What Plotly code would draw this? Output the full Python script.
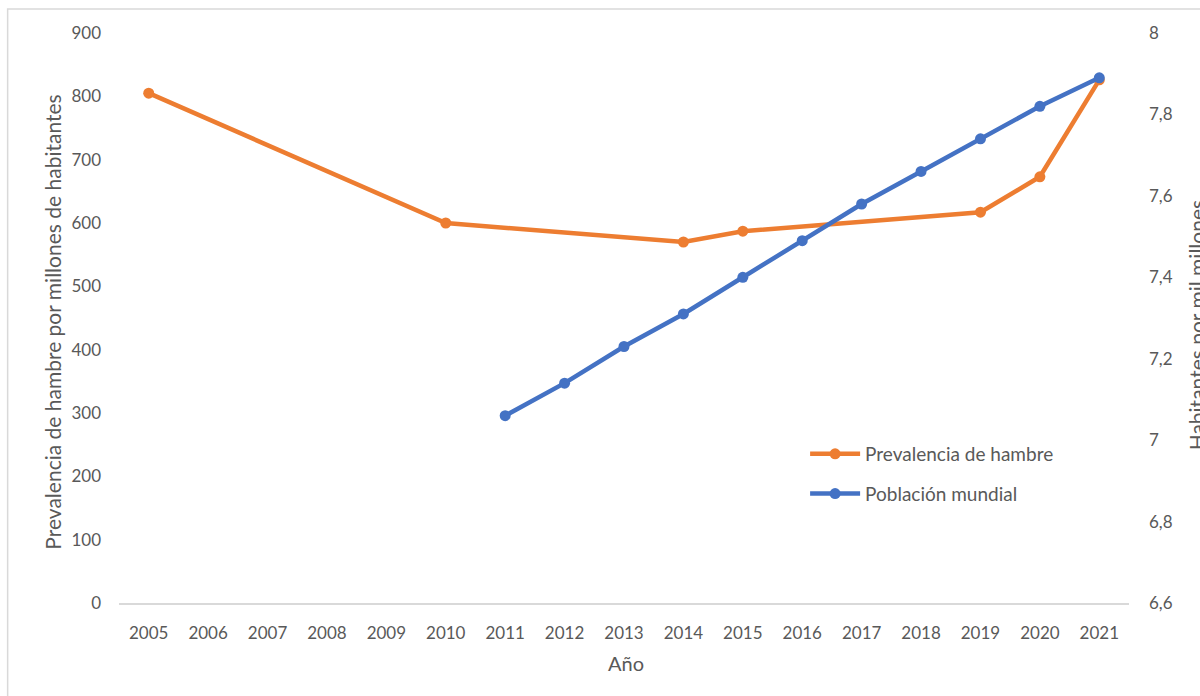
import plotly.graph_objects as go

years = [str(y) for y in range(2005, 2022)]

hunger_years = ["2005", "2010", "2014", "2015", "2019", "2020", "2021"]
hunger_vals = [805, 600, 570, 587, 617, 673, 826]

pop_years = ["2011", "2012", "2013", "2014", "2015", "2016", "2017", "2018", "2019", "2020", "2021"]
pop_vals = [7.06, 7.14, 7.23, 7.31, 7.40, 7.49, 7.58, 7.66, 7.74, 7.82, 7.89]

left_ticks = [0, 100, 200, 300, 400, 500, 600, 700, 800, 900]
right_ticks = [6.6, 6.8, 7.0, 7.2, 7.4, 7.6, 7.8, 8.0]

ORANGE = "#ED7D31"
BLUE = "#4472C4"
GRAY = "#595959"
FONT = "Lato"

W, H = 1200, 696
L, R, T, B = 119.3, 1128.7, 33, 603

fig = go.Figure()
fig.add_trace(go.Scatter(
    x=hunger_years, y=hunger_vals, name="Prevalencia de hambre",
    mode="lines+markers", line=dict(color=ORANGE, width=4.5),
    marker=dict(color=ORANGE, size=11), legendgroup="a", yaxis="y"))
fig.add_trace(go.Scatter(
    x=pop_years, y=pop_vals, name="Población mundial",
    mode="lines+markers", line=dict(color=BLUE, width=4.5),
    marker=dict(color=BLUE, size=11), legendgroup="b", yaxis="y2"))

def px_x(p):
    return (p - L) / (R - L)

def px_y(p):
    return (B - p) / (B - T)

fig.update_layout(
    width=W, height=H,
    margin=dict(l=L, r=W - R, t=T, b=H - B, autoexpand=False),
    paper_bgcolor="white", plot_bgcolor="white",
    separators=", ",
    font=dict(family=FONT, size=17, color=GRAY),
    showlegend=True,
    legend=dict(x=px_x(805), y=px_y(435), xanchor="left", yanchor="top",
                bgcolor="rgba(0,0,0,0)", font=dict(size=19, color=GRAY),
                traceorder="grouped", tracegroupgap=12, itemwidth=50),
    xaxis=dict(type="category", categoryorder="array", categoryarray=years,
               range=[-0.5, len(years) - 0.5], showgrid=False,
               showline=True, linecolor="#D9D9D9", linewidth=1.5,
               ticks="", ticklabelstandoff=14, zeroline=False,
               tickfont=dict(size=17, color=GRAY)),
    yaxis=dict(range=[0, 900], tickvals=left_ticks, showgrid=False,
               zeroline=False, showline=False, ticks="",
               ticklabelstandoff=17, tickfont=dict(size=17, color=GRAY)),
    yaxis2=dict(range=[6.6, 8.0], tickvals=right_ticks, overlaying="y",
                side="right", showgrid=False, zeroline=False, showline=False,
                ticks="", ticklabelstandoff=19, tickfont=dict(size=17, color=GRAY)),
    annotations=[
        dict(text="Prevalencia de hambre por millones de habitantes",
             xref="paper", yref="paper", x=px_x(52), y=px_y(322),
             xanchor="center", yanchor="middle", textangle=-90,
             showarrow=False, font=dict(size=21, color=GRAY)),
        dict(text="Habitantes por mil millones",
             xref="paper", yref="paper", x=px_x(1196), y=px_y(325),
             xanchor="center", yanchor="middle", textangle=-90,
             showarrow=False, font=dict(size=21, color=GRAY)),
        dict(text="Año", xref="paper", yref="paper", x=px_x(626), y=px_y(663),
             xanchor="center", yanchor="middle", showarrow=False,
             font=dict(size=20, color=GRAY)),
    ],
    shapes=[
        dict(type="rect", xref="paper", yref="paper",
             x0=px_x(8), x1=px_x(1260), y0=px_y(9), y1=px_y(760),
             line=dict(color="#D9D9D9", width=1.5), fillcolor="rgba(0,0,0,0)",
             layer="below"),
    ],
)

fig.write_html("out.html")
